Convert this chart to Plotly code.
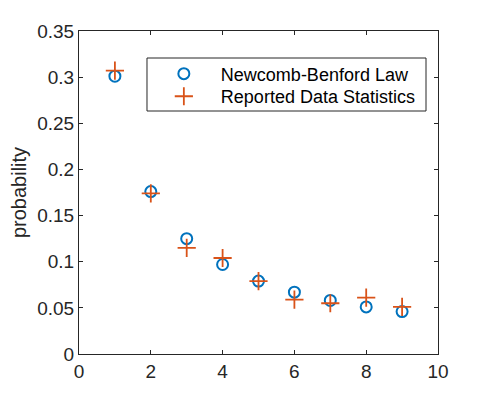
import plotly.graph_objects as go

digits = [1, 2, 3, 4, 5, 6, 7, 8, 9]
benford = [0.301, 0.176, 0.125, 0.097, 0.079, 0.067, 0.058, 0.051, 0.046]
reported = [0.307, 0.174, 0.115, 0.104, 0.079, 0.059, 0.055, 0.061, 0.051]

blue = "#0072BD"
orange = "#D95319"
font = "Liberation Sans, Arial, sans-serif"

fig = go.Figure()
fig.add_trace(go.Scatter(
    x=digits, y=benford, mode="markers", name="Newcomb-Benford Law", legend="legend",
    marker=dict(symbol="circle-open", size=11, color=blue, line=dict(width=2, color=blue))
))
fig.add_trace(go.Scatter(
    x=digits, y=reported, mode="markers", name="Reported Data Statistics", legend="legend2",
    marker=dict(symbol="cross-thin-open", size=13, color=orange, line=dict(width=1.8, color=orange))
))

axis_common = dict(
    showgrid=False, zeroline=False, showline=True, linecolor="#262626", linewidth=1,
    mirror="ticks", ticks="inside", ticklen=4, tickcolor="#262626",
    tickfont=dict(family=font, size=19, color="#262626"),
)
fig.update_xaxes(range=[0, 10], tickvals=[0, 2, 4, 6, 8, 10], **axis_common)
fig.update_yaxes(range=[0, 0.35], tickvals=[0, 0.05, 0.1, 0.15, 0.2, 0.25, 0.3, 0.35],
                 ticktext=["0", "0.05", "0.1", "0.15", "0.2", "0.25", "0.3", "0.35"],
                 title=dict(text="probability", font=dict(family=font, size=20, color="#262626"), standoff=6),
                 **axis_common)

# one legend per row so the rows sit as tight as the original; box drawn as a shape
leg = dict(x=0.189, xanchor="left", yanchor="middle", borderwidth=0,
           bgcolor="rgba(0,0,0,0)", font=dict(family=font, size=18, color="#000000"),
           itemwidth=64)
fig.add_shape(type="rect", xref="paper", yref="paper",
              x0=0.1894, x1=0.9666, y0=0.7523, y1=0.9164,
              line=dict(color="#262626", width=1), fillcolor="white", layer="below")

# page body adds an 8px offset, so the figure is sized to fit the window
fig.update_layout(
    width=476, height=390,
    margin=dict(l=71, r=46, t=23, b=44, autoexpand=False),
    plot_bgcolor="white", paper_bgcolor="white",
    showlegend=True,
    legend=dict(y=0.867, **leg),
    legend2=dict(y=0.797, **leg),
)

fig.write_html("out.html")
